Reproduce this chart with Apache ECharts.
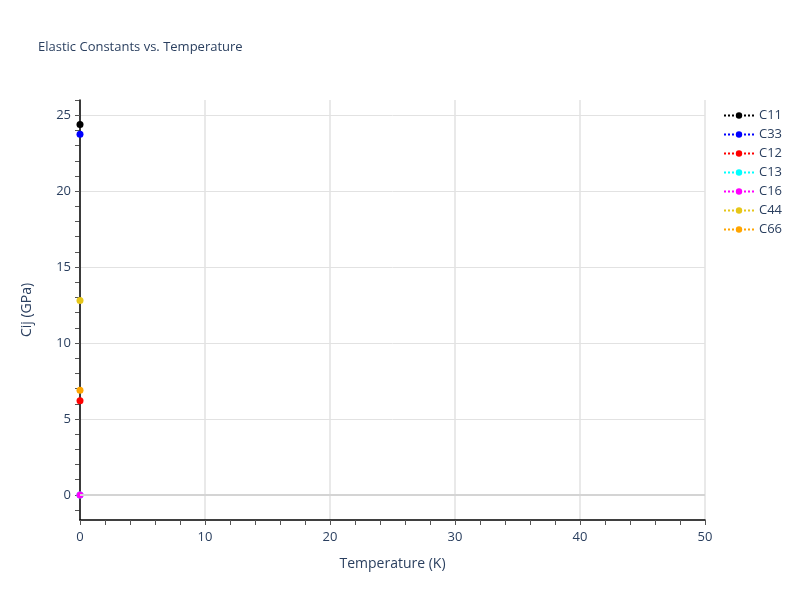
<!DOCTYPE html>
<html>
<head>
<meta charset="utf-8">
<script src="https://cdn.jsdelivr.net/npm/echarts@6/dist/echarts.min.js"></script>
<style>
  html, body { margin: 0; padding: 0; background: #fff; }
  #chart { width: 800px; height: 600px; }
</style>
</head>
<body>
<div id="chart"></div>
<script>
// Elastic constants at each temperature (only T = 0 K was sampled)
const temperatures = [0];
const seriesNames = ['C11', 'C33', 'C12', 'C13', 'C16', 'C44', 'C66'];
const c11 = [24.38];
const c33 = [23.75];
const c12 = [6.2];
const c13 = [0.0];
const c16 = [0.0];
const c44 = [12.8];
const c66 = [6.9];
const seriesColors = ['#000000', '#0000ff', '#ff0000', '#00ffff', '#ff00ff', '#e6c619', '#ffa500'];

// tick labels
const yMajorTicks = [0, 5, 10, 15, 20, 25];
const yMinorTicks = [-1, 1, 2, 3, 4, 6, 7, 8, 9, 11, 12, 13, 14, 16, 17, 18, 19, 21, 22, 23, 24, 26];

const textColor = '#2a3f5f';
const fontFamily = '"Open Sans", "DejaVu Sans", sans-serif';

const seriesValues = [c11, c33, c12, c13, c16, c44, c66];

const chart = echarts.init(document.getElementById('chart'));

const option = {
  backgroundColor: '#fff',
  animation: false,
  title: {
    text: 'Elastic Constants vs. Temperature',
    left: 33,
    top: 36,
    textStyle: { color: textColor, fontSize: 13, fontWeight: 'normal', fontFamily: fontFamily }
  },
  legend: {
    orient: 'vertical',
    left: 718,
    top: 104,
    itemGap: 6,
    itemWidth: 30,
    itemHeight: 8,
    textStyle: { color: textColor, fontSize: 13, fontFamily: fontFamily },
    data: seriesNames
  },
  grid: {
    left: 80,
    right: 95,
    top: 100,
    bottom: 80,
    containLabel: false
  },
  xAxis: {
    type: 'value',
    min: 0,
    max: 50,
    interval: 10,
    z: 3,
    name: 'Temperature (K)',
    nameLocation: 'middle',
    nameGap: 37,
    nameTextStyle: { color: textColor, fontSize: 14, fontFamily: fontFamily },
    axisLine: { show: true, onZero: false, lineStyle: { color: '#000', width: 1.5 } },
    axisTick: { show: true, length: 5, lineStyle: { color: '#555' } },
    minorTick: { show: true, splitNumber: 5, length: 5, lineStyle: { color: '#555' } },
    axisLabel: { color: textColor, fontSize: 13, margin: 11, fontFamily: fontFamily },
    splitLine: { show: true, lineStyle: { color: '#e2e2e2', width: 1.5 } }
  },
  yAxis: [
    {
      type: 'value',
      min: -1.65,
      max: 26,
      z: 3,
      name: 'Cij (GPa)',
      nameLocation: 'middle',
      nameGap: 46,
      nameTextStyle: { color: textColor, fontSize: 14, fontFamily: fontFamily },
      axisLine: { show: true, onZero: false, lineStyle: { color: '#000', width: 1.5 } },
      axisTick: { show: true, length: 5, customValues: yMajorTicks, lineStyle: { color: '#555' } },
      axisLabel: { color: textColor, fontSize: 13, margin: 9, customValues: yMajorTicks, fontFamily: fontFamily },
      splitLine: { show: true, lineStyle: { color: '#e2e2e2', width: 1 } }
    },
    {
      type: 'value',
      min: -1.65,
      max: 26,
      position: 'left',
      axisLine: { show: false, onZero: false },
      axisTick: { show: true, length: 5, customValues: yMinorTicks, lineStyle: { color: '#555' } },
      axisLabel: { show: false },
      splitLine: { show: false }
    }
  ],
  series: seriesNames.map((name, i) => ({
    name: name,
    type: 'line',
    yAxisIndex: 0,
    data: temperatures.map((t, k) => [t, seriesValues[i][k]]),
    symbol: 'circle',
    symbolSize: 7,
    clip: true,
    itemStyle: { color: seriesColors[i] },
    lineStyle: { color: seriesColors[i], type: 'dotted', width: 2 },
    markLine: i === 0 ? {
      silent: true,
      symbol: 'none',
      label: { show: false },
      lineStyle: { color: '#d4d4d4', width: 2, type: 'solid' },
      data: [{ yAxis: 0 }]
    } : undefined
  }))
};

chart.setOption(option);
</script>
</body>
</html>
